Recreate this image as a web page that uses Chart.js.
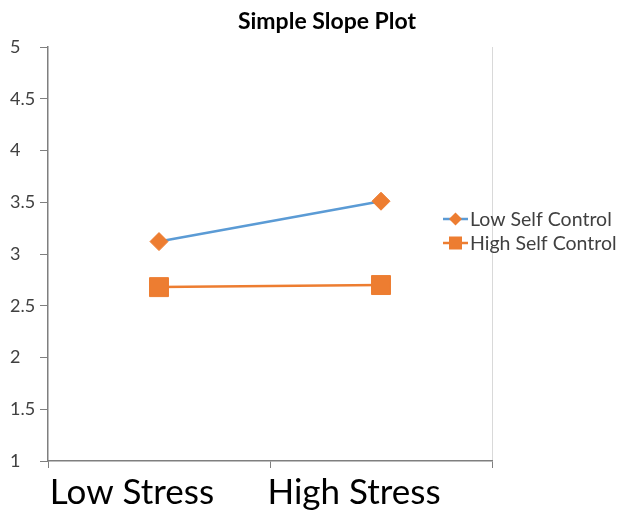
<!DOCTYPE html>
<html>
<head>
<meta charset="utf-8">
<script src="https://cdn.jsdelivr.net/npm/chart.js@4/dist/chart.umd.min.js"></script>
<style>
  html, body { margin: 0; padding: 0; background: #fff; }
  #wrap { width: 617px; height: 519px; }
</style>
</head>
<body>
<div id="wrap"><canvas id="c" width="617" height="519"></canvas></div>
<script>
// Chart content
const chartTitle = 'Simple Slope Plot';
const stressLevels = ['Low Stress', 'High Stress'];
const seriesNames = ['Low Self Control', 'High Self Control'];
const lowSelfControl = [3.12, 3.51];
const highSelfControl = [2.68, 2.70];
const yMin = 1;
const yMax = 5;
const yStep = 0.5;

const BLUE = '#5B9BD5';
const ORANGE = '#ED7D31';
const AXIS = '#7f7f7f';
const FONT = 'Lato, "Open Sans", sans-serif';

// Title and a legend that sits partly over the plot's right edge
const overlay = {
  id: 'overlay',
  afterDraw(chart) {
    const ctx = chart.ctx;
    const area = chart.chartArea;
    ctx.save();
    ctx.fillStyle = '#000';
    ctx.font = 'bold 23px ' + FONT;
    ctx.textAlign = 'center';
    ctx.textBaseline = 'middle';
    ctx.fillText(chartTitle, 327, 22);

    const lx = area.right - 49;
    chart.data.datasets.forEach((ds, i) => {
      const y = 219 + i * 24;
      ctx.strokeStyle = ds.borderColor;
      ctx.lineWidth = 2.5;
      ctx.beginPath();
      ctx.moveTo(lx, y);
      ctx.lineTo(lx + 25, y);
      ctx.stroke();
      ctx.fillStyle = ds.pointBackgroundColor;
      const cx = lx + 12.5;
      ctx.beginPath();
      if (ds.pointStyle === 'rectRot') {
        const r = 6.5;
        ctx.moveTo(cx, y - r);
        ctx.lineTo(cx + r, y);
        ctx.lineTo(cx, y + r);
        ctx.lineTo(cx - r, y);
        ctx.closePath();
      } else {
        const h = 6.5;
        ctx.rect(cx - h, y - h, 2 * h, 2 * h);
      }
      ctx.fill();
      ctx.fillStyle = '#404040';
      ctx.font = '19.5px ' + FONT;
      ctx.textAlign = 'left';
      ctx.fillText(ds.label, lx + 27, y + 1);
    });
    ctx.restore();
  }
};

new Chart(document.getElementById('c'), {
  type: 'line',
  data: {
    labels: stressLevels,
    datasets: [
      {
        label: seriesNames[0],
        data: lowSelfControl,
        borderColor: BLUE,
        borderWidth: 2.5,
        pointStyle: 'rectRot',
        pointRadius: 9,
        pointBackgroundColor: ORANGE,
        pointBorderColor: ORANGE,
        pointBorderWidth: 1,
        tension: 0,
        clip: false
      },
      {
        label: seriesNames[1],
        data: highSelfControl,
        borderColor: ORANGE,
        borderWidth: 2.5,
        pointStyle: 'rect',
        pointRadius: 13.4,
        pointBackgroundColor: ORANGE,
        pointBorderColor: ORANGE,
        pointBorderWidth: 1,
        tension: 0,
        clip: false
      }
    ]
  },
  options: {
    responsive: false,
    devicePixelRatio: 1,
    animation: false,
    layout: { padding: { top: 47, right: 125, left: 10, bottom: 0 } },
    plugins: {
      legend: { display: false },
      title: { display: false },
      tooltip: { enabled: false }
    },
    scales: {
      x: {
        type: 'category',
        offset: true,
        grid: {
          offset: true,
          drawOnChartArea: true,
          color: (c) => (c.tick ? 'rgba(0,0,0,0)' : '#d9d9d9'),
          tickColor: AXIS,
          tickLength: 7,
          lineWidth: 1
        },
        border: { color: AXIS, width: 1.5 },
        ticks: {
          color: '#000',
          font: { family: FONT, size: 35 },
          padding: 4,
          labelOffset: -27,
          maxRotation: 0,
          autoSkip: false
        },
        afterFit: (s) => { s.height = 58; }
      },
      y: {
        min: yMin,
        max: yMax,
        grid: {
          drawOnChartArea: false,
          tickColor: AXIS,
          tickLength: 8
        },
        border: { color: AXIS, width: 1.5 },
        ticks: {
          stepSize: yStep,
          color: '#404040',
          font: { family: FONT, size: 18 },
          padding: 3,
          crossAlign: 'far',
          callback: (v) => String(Number(v))
        },
        afterFit: (s) => { s.width = 38; }
      }
    }
  },
  plugins: [overlay]
});
</script>
</body>
</html>
